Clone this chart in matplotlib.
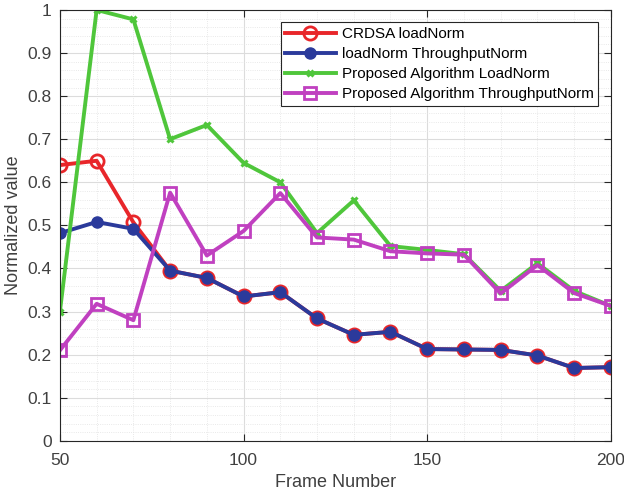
import matplotlib
matplotlib.use('Agg')
import matplotlib.pyplot as plt
from matplotlib.ticker import MultipleLocator

frames = [50, 60, 70, 80, 90, 100, 110, 120, 130, 140, 150, 160, 170, 180, 190, 200]
crdsa_load = [0.640, 0.650, 0.507, 0.395, 0.378, 0.335, 0.345, 0.284, 0.246, 0.253,
              0.213, 0.212, 0.211, 0.198, 0.169, 0.171]
crdsa_thr = [0.482, 0.508, 0.492, 0.395, 0.378, 0.335, 0.345, 0.284, 0.246, 0.253,
             0.213, 0.212, 0.211, 0.198, 0.169, 0.171]
prop_load = [0.300, 1.000, 0.978, 0.700, 0.733, 0.645, 0.600, 0.482, 0.558, 0.452,
             0.443, 0.433, 0.348, 0.412, 0.348, 0.313]
prop_thr = [0.210, 0.318, 0.280, 0.576, 0.430, 0.487, 0.575, 0.472, 0.467, 0.440,
            0.435, 0.432, 0.342, 0.408, 0.343, 0.313]
ytick_labels = ['0', '0.1', '0.2', '0.3', '0.4', '0.5', '0.6', '0.7', '0.8', '0.9', '1']

plt.rcParams['font.family'] = ['Liberation Sans', 'DejaVu Sans']
txt = '#404040'

fig = plt.figure(figsize=(6.24, 4.97), dpi=100)
ax = fig.add_axes([0.096, 0.113, 0.883, 0.867])

ax.plot(frames, crdsa_load, '-o', color='#e8262a', lw=2.8, ms=9.5, mfc='none', mew=2,
        label='CRDSA loadNorm')
ax.plot(frames, crdsa_thr, '-o', color='#2b3a9b', lw=2.8, ms=8,
        label='loadNorm ThroughputNorm')
ax.plot(frames, prop_load, '-x', color='#4fc63b', lw=2.8, ms=5, mew=2.2,
        label='Proposed Algorithm LoadNorm')
ax.plot(frames, prop_thr, '-s', color='#c040c0', lw=2.8, ms=8, mfc='none', mew=2,
        label='Proposed Algorithm ThroughputNorm')

ax.set_xlim(50, 200)
ax.set_ylim(0, 1)
ax.xaxis.set_major_locator(MultipleLocator(50))
ax.xaxis.set_minor_locator(MultipleLocator(10))
ax.set_yticks([i / 10 for i in range(11)])
ax.set_yticklabels(ytick_labels)
ax.yaxis.set_minor_locator(MultipleLocator(0.02))

ax.grid(which='major', color='#dcdcdc', lw=0.8)
ax.grid(which='minor', color='#e2e2e2', lw=0.6, ls=':')
ax.set_axisbelow(True)
ax.tick_params(which='both', direction='in', top=True, right=True, labelsize=12.5,
               colors='#262626', labelcolor=txt)
ax.tick_params(which='major', length=5)
ax.tick_params(axis='x', pad=9)
ax.tick_params(axis='y', pad=6)
ax.tick_params(which='minor', length=0)
for s in ax.spines.values():
    s.set_color('#262626')
    s.set_linewidth(0.8)

ax.set_xlabel('Frame Number', fontsize=13, color=txt, labelpad=4)
ax.set_ylabel('Normalized value', fontsize=13, color=txt, labelpad=4)

leg = ax.legend(loc='upper right', bbox_to_anchor=(0.977, 0.971), fontsize=11,
                fancybox=False, edgecolor='#262626', framealpha=1,
                borderpad=0.3, labelspacing=0.4, handlelength=3.3, handletextpad=0.4,
                borderaxespad=0)
leg.get_frame().set_linewidth(0.8)

fig.savefig('out.png', dpi=100)
